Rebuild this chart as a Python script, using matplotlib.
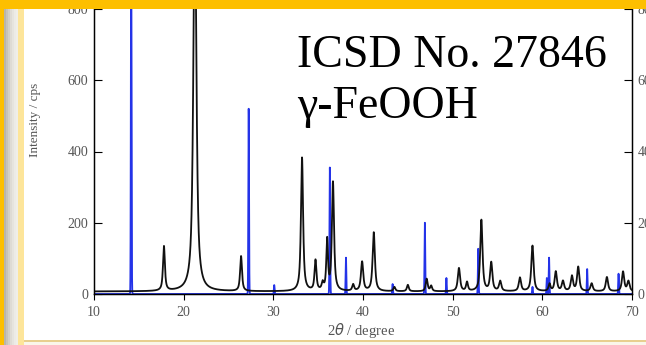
import numpy as np
import matplotlib.pyplot as plt
from matplotlib.patches import Rectangle

# measured pattern: peak positions (2theta), heights (cps), widths (fwhm, deg)
obs_pos = [17.8, 21.25, 26.4, 33.2, 34.7, 35.5, 36.0, 36.65, 38.9, 39.9, 41.2,
           43.5, 45.0, 47.1, 47.6, 50.7, 51.6, 53.2, 54.3, 55.3, 57.5, 58.9,
           60.8, 61.5, 62.3, 63.3, 64.0, 65.5, 67.2, 69.0, 69.6]
obs_int = [125, 1100, 98, 375, 85, 20, 140, 305, 18, 82, 165,
           12, 18, 35, 15, 65, 25, 200, 80, 28, 38, 128,
           20, 55, 28, 42, 68, 22, 40, 55, 28]
obs_fwhm = [0.25, 0.4, 0.25, 0.28, 0.25, 0.25, 0.22, 0.28, 0.25, 0.3, 0.3,
            0.25, 0.25, 0.25, 0.25, 0.3, 0.25, 0.3, 0.3, 0.3, 0.3, 0.3,
            0.25, 0.3, 0.3, 0.3, 0.3, 0.3, 0.3, 0.3, 0.3]
obs_base = 7

# ICSD No. 27846 reference pattern
ref_pos = [14.15, 27.25, 30.1, 36.3, 38.1, 43.3, 46.9, 49.3, 52.85, 58.9,
           60.5, 60.75, 65.0, 68.5]
ref_int = [1000, 520, 25, 355, 102, 28, 200, 45, 127, 20,
           45, 102, 70, 57]
ref_fwhm = 0.09

xt = [10, 20, 30, 40, 50, 60, 70]
yt = [0, 200, 400, 600, 800]


def profile(x, pos, hgt, fwhm, eta=0.6):
    y = np.zeros_like(x)
    for p, h, w in zip(pos, hgt, fwhm):
        g = np.exp(-4 * np.log(2) * ((x - p) / w) ** 2)
        l = 1 / (1 + 4 * ((x - p) / w) ** 2)
        y += h * (eta * l + (1 - eta) * g)
    return y


tt = np.linspace(10, 70, 12001)
obs = obs_base + profile(tt, obs_pos, obs_int, obs_fwhm, eta=0.8)
ref = profile(tt, ref_pos, ref_int, [ref_fwhm] * len(ref_pos), eta=0.0)

W, H = 646, 345
fig = plt.figure(figsize=(W / 100, H / 100), dpi=100)
ax = fig.add_axes([94 / W, (H - 294) / H, (632 - 94) / W, (294 - 9) / H])

ax.plot(tt, ref, color='#2433e8', lw=1.3, zorder=2)
ax.plot(tt, obs, color='#111111', lw=1.3, zorder=3)
ax.set_xlim(10, 70)
ax.set_ylim(0, 800)

serif = 'Liberation Serif'
grey = '#555555'
ax.set_xticks(xt)
ax.set_xticklabels([str(v) for v in xt], family=serif, fontsize=10, color=grey)
ax.set_yticks(yt)
ax.set_yticklabels([str(v) for v in yt], family=serif, fontsize=10, color=grey)
ax.tick_params(axis='x', direction='out', length=4, width=0.8, pad=5)
ax.tick_params(axis='y', direction='in', length=6, width=0.8, pad=4)
for s in ['left', 'right', 'bottom']:
    ax.spines[s].set_linewidth(1.0)
ax.spines['top'].set_visible(False)

ax2 = ax.twinx()
ax2.set_ylim(0, 800)
ax2.set_yticks(yt)
ax2.set_yticklabels([str(v) for v in yt], family=serif, fontsize=10, color=grey)
ax2.tick_params(axis='y', direction='in', length=6, width=0.8, pad=4)
ax2.spines['top'].set_visible(False)

fig.text(35 / W, 1 - 120 / H, 'Intensity / cps', rotation=90, ha='center',
         va='center', family=serif, fontsize=9.5, color=grey)
fig.text(361 / W, 1 - 330 / H, r'2$\theta$ / degree', ha='center', va='center',
         family=serif, fontsize=10.5, color=grey)

fig.text(297 / W, 1 - 67 / H, 'ICSD No. 27846', ha='left', va='baseline',
         family=serif, fontsize=33, color='black')
fig.text(297 / W, 1 - 118 / H, 'γ-FeOOH', ha='left', va='baseline',
         family=serif, fontsize=33, color='black')

# screenshot frame
def band(x0, y0, x1, y1, c):
    fig.patches.append(Rectangle((x0 / W, 1 - y1 / H), (x1 - x0) / W,
                                 (y1 - y0) / H, transform=fig.transFigure,
                                 color=c, zorder=10, lw=0))

band(0, 0, W, 9, '#fdbf00')
band(0, 0, 4, H, '#fdbf00')
greys = ['#b9b5ab', '#c7c3b9', '#d3d0c8', '#dedbd4', '#e6e4de', '#ecebe6', '#efeee9']
for i, c in enumerate(greys):
    band(4 + 2 * i, 9, 6 + 2 * i, H, c)
band(18, 9, 24, H, '#fde59a')
band(24, 340, W, 342, '#e8cf8f')
band(24, 342, W, H, '#faf6ea')

fig.savefig('out.png', dpi=100)
